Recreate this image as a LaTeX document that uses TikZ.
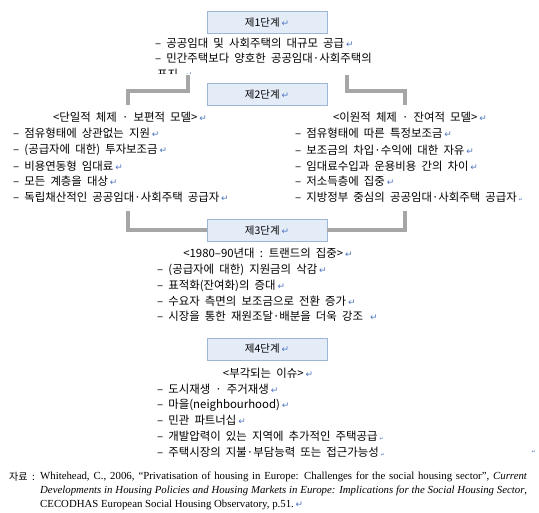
\documentclass[tikz,border=0pt]{standalone}
\usepackage{fontspec}
\setmainfont[WordSpace=2.0]{Noto Sans CJK KR}
\newfontfamily\dejavu{DejaVu Sans}
\newfontfamily\citeserif{Liberation Serif}
\definecolor{boxfill}{HTML}{E4ECF7}
\definecolor{boxborder}{HTML}{9DB6D6}
\definecolor{linkgray}{HTML}{A6A6A6}
\definecolor{retblue}{HTML}{4F76C0}
\newcommand\retmark{\,{\dejavu\fontsize{9}{9}\selectfont\color{retblue}↵}}
\newcommand\retsmall{\,{\dejavu\fontsize{5}{5}\selectfont\color{retblue}↵}}
\begin{document}
\begin{tikzpicture}[x=1pt,y=-1pt,
  stagebox/.style={draw=boxborder, fill=boxfill, line width=0.9pt, minimum width=120pt, minimum height=22pt, inner sep=0pt, font=\fontsize{10.5}{12}\selectfont},
  txt/.style={anchor=west, inner sep=0pt, font=\fontsize{11.4}{12}\selectfont},
  head/.style={inner sep=0pt, font=\fontsize{11.4}{12}\selectfont},
  cite/.style={anchor=west, inner sep=0pt, font=\citeserif\fontsize{10.8}{12}\selectfont},
  link/.style={draw=linkgray, line width=4pt, line join=miter}]
\useasboundingbox (0,0) rectangle (539,513);
\fill[white] (0,0) rectangle (539,513);

% connectors
\coordinate (a1) at (188,75);  \coordinate (a2) at (128,105);
\coordinate (b1) at (347,75);  \coordinate (b2) at (405,105);
\coordinate (c1) at (128,211); \coordinate (d1) at (405,211);
\draw[link] (a1) -- ++(0,16) -| (a2);
\draw[link] (b1) -- ++(0,16) -| (b2);

% stage boxes
\node[stagebox] (s1) at (267,22.5) {제1단계\retmark};
\node[stagebox] (s2) at (267,94.5) {제2단계\retmark};
\node[stagebox] (s3) at (267,230.5) {제3단계\retmark};
\node[stagebox] (s4) at (267,349) {제4단계\retmark};
\draw[link] (c1) |- (s3.west);
\draw[link] (d1) |- (s3.east);

% stage 1 text
\node[txt] (t11) at (155,43) {– 공공임대 및 사회주택의 대규모 공급\retmark};
\node[txt] (t12) at (155,58) {– 민간주택보다 양호한 공공임대·사회주택의};
\begin{scope}
\clip (0,0) rectangle (539,74);
\node[txt] (t13) at (157,74) {표지 \retmark};
\end{scope}

% stage 2 left
\node[head] (hl) at (130,117) {<단일적 체제 · 보편적 모델>\retmark};
\node[txt] (l1) at (13,133) {– 점유형태에 상관없는 지원\retmark};
\node[txt] (l2) at (13,150) {– (공급자에 대한) 투자보조금\retmark};
\node[txt] (l3) at (13,166) {– 비용연동형 임대료\retmark};
\node[txt] (l4) at (13,181) {– 모든 계층을 대상\retmark};
\node[txt] (l5) at (13,197) {– 독립채산적인 공공임대·사회주택 공급자\retmark};

% stage 2 right
\node[head] (hr) at (410,117) {<이원적 체제 · 잔여적 모델>\retmark};
\node[txt] (r1) at (295,133) {– 점유형태에 따른 특정보조금\retmark};
\node[txt] (r2) at (295,150) {– 보조금의 차입·수익에 대한 자유\retmark};
\node[txt] (r3) at (295,166) {– 임대료수입과 운용비용 간의 차이\retmark};
\node[txt] (r4) at (295,181) {– 저소득층에 집중\retmark};
\node[txt] (r5) at (295,197) {– 지방정부 중심의 공공임대·사회주택 공급자\retsmall};

% stage 3
\node[head] (h3) at (268,253) {<1980–90년대 : 트랜드의 집중>\retmark};
\node[txt] (m1) at (157,270) {– (공급자에 대한) 지원금의 삭감\retmark};
\node[txt] (m2) at (157,286) {– 표적화(잔여화)의 증대\retmark};
\node[txt] (m3) at (157,301) {– 수요자 측면의 보조금으로 전환 증가\retmark};
\node[txt] (m4) at (157,316) {– 시장을 통한 재원조달·배분을 더욱 강조 \retmark};

% stage 4
\node[head] (h4) at (268,373) {<부각되는 이슈>\retmark};
\node[txt] (n1) at (157,389) {– 도시재생 · 주거재생\retmark};
\node[txt] (n2) at (157,405) {– 마을(neighbourhood)\retmark};
\node[txt] (n3) at (157,420) {– 민관 파트너십\retmark};
\node[txt] (n4) at (157,436) {– 개발압력이 있는 지역에 추가적인 주택공급\retsmall};
\node[txt] (n5) at (157,452) {– 주택시장의 지불·부담능력 또는 접근가능성\retsmall};
\node[inner sep=0pt] (stray) at (533,452) {\retsmall};

% source
\node[txt, font=\fontsize{10}{11}\selectfont] (src) at (9,477) {자료 :};
\node[cite] (c1t) at (40,477) {\makebox[487pt][s]{Whitehead, C., 2006, “Privatisation of housing in Europe: Challenges for the social housing sector”, \textit{Current}}};
\node[cite] (c2t) at (40,491) {\makebox[487pt][s]{\textit{Developments in Housing Policies and Housing Markets in Europe: Implications for the Social Housing Sector},}};
\node[cite] (c3t) at (40,505) {CECODHAS European Social Housing Observatory, p.51.\retmark};
\end{tikzpicture}
\end{document}
